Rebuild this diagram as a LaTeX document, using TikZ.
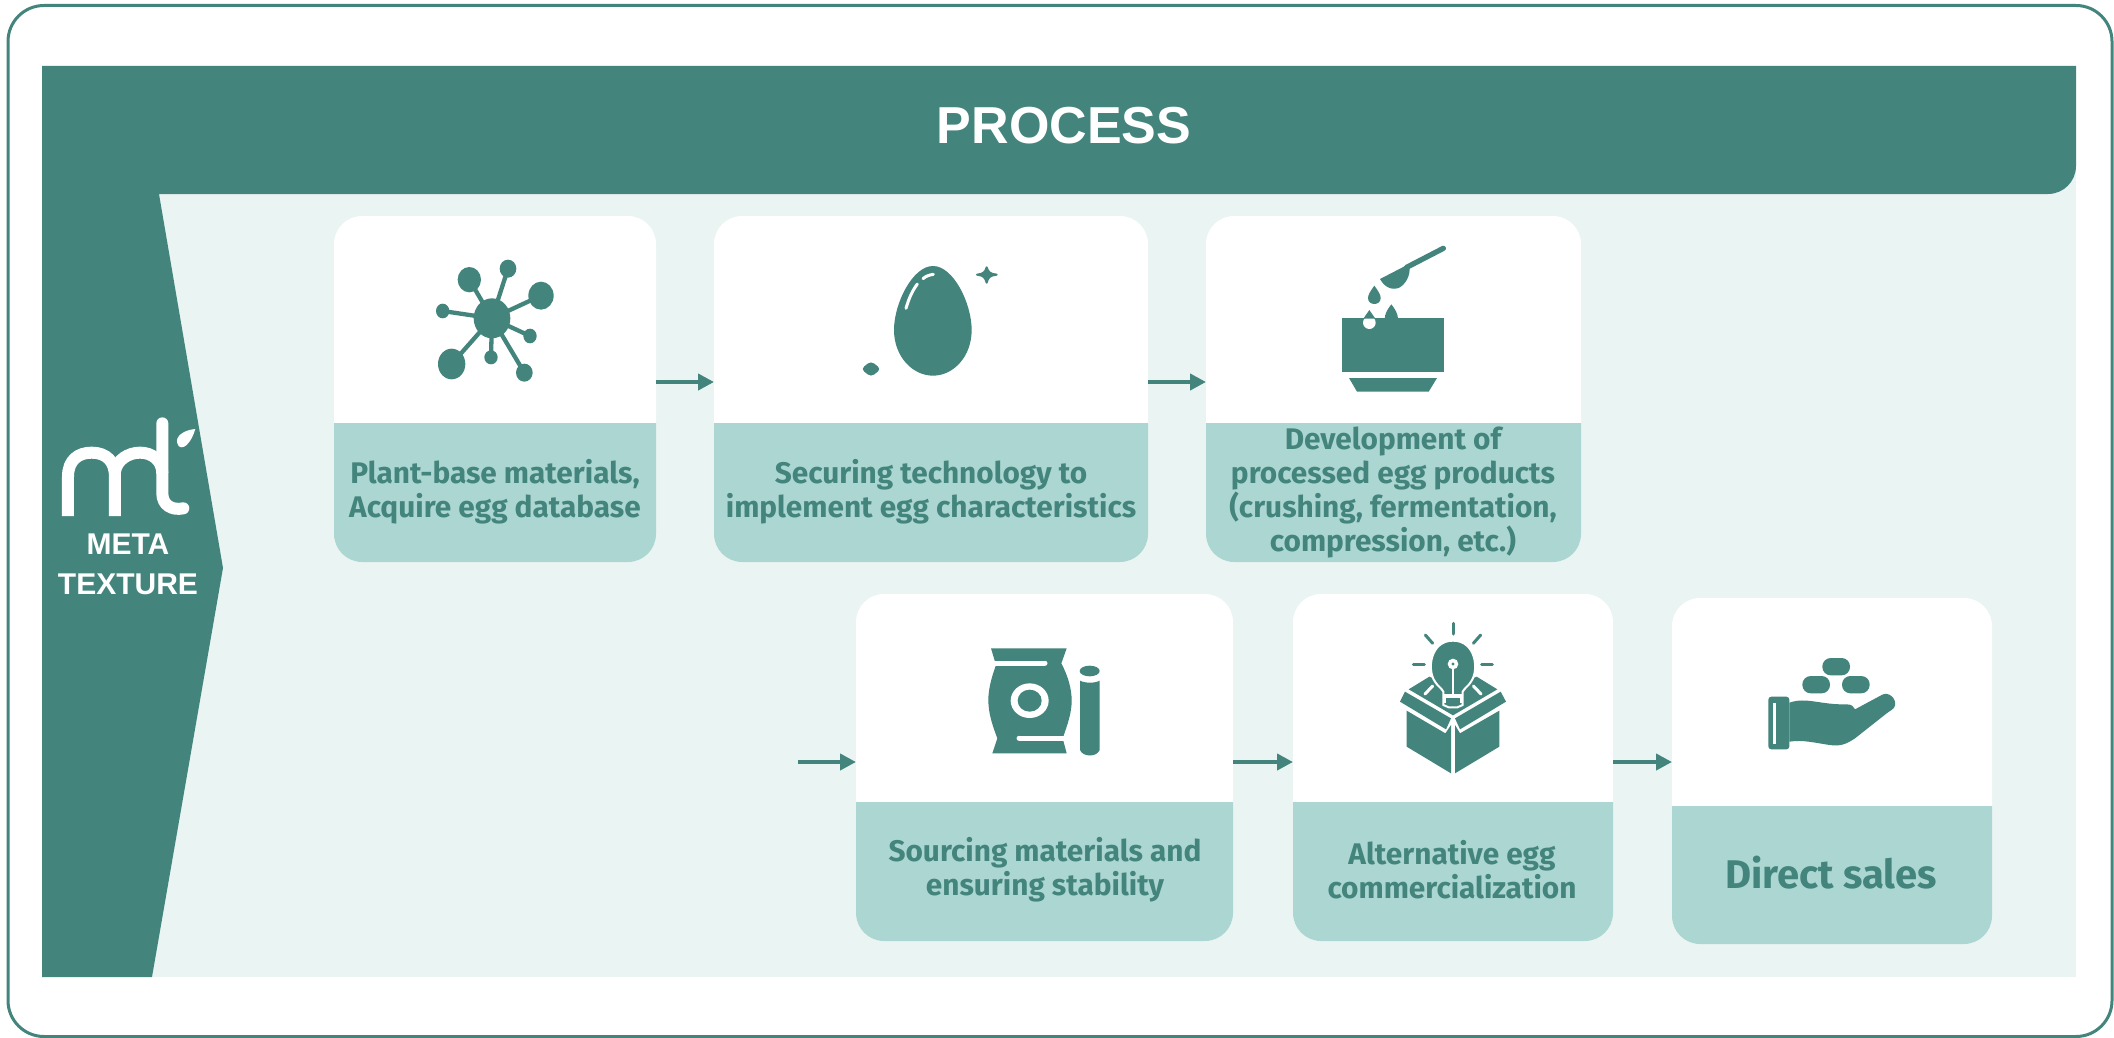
\documentclass[tikz,border=0pt]{standalone}
\usepackage{fontspec}
\setmainfont{Fira Sans}
\newfontfamily\capsfont{Liberation Sans}
\definecolor{teal}{HTML}{43857C}
\definecolor{band}{HTML}{ACD6D1}
\definecolor{pale}{HTML}{EAF4F2}
\usetikzlibrary{arrows.meta}
\tikzset{
  cardbox/.style={fill=white,rounded corners=28pt,inner sep=0pt,outer sep=0pt},
  cardtext/.style={text=teal,align=center,font=\fontsize{29.8}{34}\selectfont\bfseries,inner sep=0pt},
  flowarrow/.style={draw=teal,line width=4pt,-{Triangle[length=16pt,width=16pt]}},
  iconwhite/.style={draw=white,line cap=round},
  icon/.style={shift={#1},x=0.33333pt,y=-0.33333pt},
}
\newcommand\card[6]{%
  \pgfmathsetmacro\cw{#4-#2}\pgfmathsetmacro\ch{#5-#3}%
  \pgfmathsetmacro\cx{(#2+#4)/2}\pgfmathsetmacro\cy{(#3+#5)/2}%
  \node[cardbox,minimum width=\cw pt,minimum height=\ch pt] (#1) at (\cx,\cy) {};
  \fill[band] [sharp corners] (#2,#6) [rounded corners=28pt] -- (#2,#5) -- (#4,#5) [sharp corners] -- (#4,#6) -- cycle;
}
\begin{document}
\begin{tikzpicture}[x=1pt,y=-1pt]
\useasboundingbox (0,0) rectangle (2114,1038);
\fill[white] (0,0) rectangle (2114,1038);
\draw[teal,line width=3pt,rounded corners=36pt] (8,5.5) rectangle (2112,1036.5);
% background panels
\fill[pale] (150,165) rectangle (2076,977);
\fill[teal] [sharp corners] (42,66) -- (2076,66) [rounded corners=28pt] -- (2076,194) [sharp corners] -- (159,194) -- (223,568) -- (152,977) -- (42,977) -- cycle;
\node[text=white,font=\capsfont\fontsize{52}{52}\selectfont\bfseries,inner sep=0pt] (title) at (1064,126) {PROCESS};
% logo
\begin{scope}[icon={(0,380)}]
  \draw[white,line width=12pt] (204,408) -- (204,290) .. controls (204,240) and (235,218) .. (275,218) .. controls (320,218) and (345,245) .. (345,290) -- (345,408);
  \draw[white,line width=12pt] (345,275) .. controls (350,240) and (385,218) .. (420,218) .. controls (455,218) and (487,240) .. (487,280);
  \draw[white,line width=12pt,line cap=round] (487,130) -- (487,340) .. controls (487,375) and (515,392) .. (550,385);
  \fill[white] (586,147) .. controls (550,150) and (525,170) .. (532,190) .. controls (535,205) and (550,205) .. (560,195) .. controls (575,180) and (580,165) .. (586,147) -- cycle;
\end{scope}
\node[text=white,font=\capsfont\fontsize{30}{40}\selectfont\bfseries,align=center,inner sep=0pt] (brand) at (128,564) {META\\TEXTURE};
% cards
\card{c1}{334}{216}{656}{562}{423}
\card{c2}{714}{216}{1148}{562}{423}
\card{c3}{1206}{216}{1581}{562}{423}
\card{c4}{856}{594}{1233}{941}{802}
\card{c5}{1293}{594}{1613}{941}{802}
\card{c6}{1672}{598}{1992}{944}{806}
\node[cardtext] (t1) at (495,492) {Plant-base materials,\\Acquire egg database};
\node[cardtext] (t2) at (931,492) {Securing technology to\\implement egg characteristics};
\node[cardtext] (t3) at (1393,492) {Development of\\processed egg products\\(crushing, fermentation,\\compression, etc.)};
\node[cardtext] (t4) at (1045,870) {Sourcing materials and\\ensuring stability};
\node[cardtext] (t5) at (1452,870) {Alternative egg\\commercialization};
\node[cardtext,font=\fontsize{40}{42}\selectfont\bfseries] (t6) at (1831,873) {Direct sales};
% arrows
\coordinate (start) at (798,762);
\draw[flowarrow] ([yshift=7pt]c1.east) -- ([yshift=7pt]c2.west);
\draw[flowarrow] ([yshift=7pt]c2.east) -- ([yshift=7pt]c3.west);
\draw[flowarrow] (start) -- (start -| c4.west);
\draw[flowarrow] (start -| c4.east) -- (start -| c5.west);
\draw[flowarrow] (start -| c5.east) -- (start -| c6.west);
% network icon
\begin{scope}[icon={(400,230)}]
  \foreach \a/\b in {208/149,324/116,423/197,128/243,390/318,273/382,155/402,373/428}
    \draw[teal,line width=4.3pt] (276,265) -- (\a,\b);
  \fill[teal] (276,265) circle[x radius=55,y radius=60];
  \fill[teal] (208,149) circle[x radius=35,y radius=38];
  \fill[teal] (324,116) circle[x radius=25,y radius=27];
  \fill[teal] (423,197) circle[x radius=38,y radius=42];
  \fill[teal] (128,243) circle[x radius=20,y radius=22];
  \fill[teal] (390,318) circle[x radius=20,y radius=22];
  \fill[teal] (273,382) circle[x radius=20,y radius=21];
  \fill[teal] (155,402) circle[x radius=41,y radius=46];
  \fill[teal] (373,428) circle[x radius=25,y radius=27];
\end{scope}
% egg icon
\begin{scope}[icon={(840,240)}]
  \fill[teal] (279,78) .. controls (340,78) and (395,190) .. (395,270) .. controls (395,350) and (340,407) .. (279,407) .. controls (218,407) and (162,350) .. (162,270) .. controls (162,190) and (218,78) .. (279,78) -- cycle;
  \draw[iconwhite,line width=3pt] (198,205) .. controls (205,180) and (215,155) .. (232,132);
  \draw[iconwhite,line width=3pt] (249,116) .. controls (258,108) and (268,105) .. (280,103);
  \draw[teal,fill=teal,line width=2pt,line join=round] (440,82) .. controls (444,96) and (450,102) .. (470,104) .. controls (450,106) and (444,112) .. (440,128) .. controls (436,112) and (430,106) .. (411,104) .. controls (430,102) and (436,96) .. (440,82) -- cycle;
  \fill[teal,rounded corners=4pt] (93,363) -- (123,387) -- (93,411) -- (63,387) -- cycle;
\end{scope}
% bowl icon
\begin{scope}[icon={(1300,230)}]
  \fill[teal] (126,265) rectangle (431,427);
  \fill[teal] (147,444) -- (411,444) -- (386,485) -- (171,485) -- cycle;
  \draw[teal,line width=5.3pt,line cap=round] (430,55) -- (320,112);
  \fill[teal] (240,147) -- (327,102) .. controls (333,125) and (325,155) .. (300,172) .. controls (280,182) and (255,175) .. (240,147) -- cycle;
  \fill[teal] (223,167) .. controls (210,185) and (204,195) .. (204,204) .. controls (204,228) and (242,228) .. (242,204) .. controls (242,195) and (236,185) .. (223,167) -- cycle;
  \fill[white] (208,278) circle[radius=19];
  \fill[white] (185,250) rectangle (231,265);
  \fill[teal] (208,240) -- (190,266) -- (226,266) -- cycle;
  \fill[teal] (274,223) .. controls (262,238) and (254,252) .. (254,268) -- (294,268) .. controls (294,252) and (286,238) .. (274,223) -- cycle;
\end{scope}
% bag icon
\begin{scope}[icon={(960,630)}]
  \fill[teal] (93,55) -- (320,55) -- (304,100) .. controls (325,140) and (335,178) .. (335,212) .. controls (335,250) and (322,285) .. (308,325) -- (320,370) -- (97,370) -- (112,325) .. controls (97,285) and (85,250) .. (85,210) .. controls (85,178) and (95,140) .. (108,105) -- cycle;
  \draw[white,line width=5pt] (100,100) -- (255,100);
  \fill[white] (255,100) circle[radius=7.5];
  \draw[white,line width=5pt] (177,325) -- (320,325);
  \fill[white] (177,325) circle[radius=7.5];
  \fill[white] (209,212) circle[x radius=57,y radius=52];
  \fill[teal] (209,212) circle[x radius=36,y radius=33];
  \fill[teal] (360,152) .. controls (375,160) and (405,160) .. (419,152) -- (419,360) .. controls (410,382) and (369,382) .. (360,360) -- cycle;
  \fill[teal] (389,123) circle[x radius=30,y radius=16];
\end{scope}
% box icon
\begin{scope}[icon={(1380,610)}]
  \fill[teal] (80,302) -- (196,370) -- (213,345) -- (213,490) -- (80,410) -- cycle;
  \fill[teal] (358,302) -- (240,370) -- (225,345) -- (225,490) -- (358,410) -- cycle;
  \fill[teal] (75,245) -- (60,275) -- (198,358) -- (213,325) -- cycle;
  \fill[teal] (362,245) -- (378,275) -- (240,358) -- (225,325) -- cycle;
  \fill[teal] (86,238) -- (148,200) -- (219,230) -- (290,200) -- (352,238) -- (219,316) -- cycle;
  \draw[iconwhite,line width=3pt] (135,252) -- (158,228);
  \draw[iconwhite,line width=3pt] (303,252) -- (280,228);
  \draw[white,line width=2pt,fill=teal] (190,285) -- (190,245) .. controls (185,235) and (170,225) .. (165,215) .. controls (140,180) and (150,92) .. (219,92) .. controls (288,92) and (298,180) .. (273,215) .. controls (268,225) and (253,235) .. (248,245) -- (248,285) -- (232,292) -- (206,292) -- cycle;
  \fill[white] (192,252) rectangle (246,264);
  \fill[white] (192,264) rectangle (197,280);
  \fill[white] (241,264) rectangle (246,280);
  \fill[white] (219,162) circle[radius=16];
  \fill[teal] (219,162) circle[radius=5];
  \draw[white,line width=2pt] (219,178) -- (219,252);
  \foreach \a/\b/\c/\d in {219/40/219/72,136/75/158/100,302/75/280/100,100/163/133/163,305/163/337/163}
    \draw[teal,line width=3pt,line cap=round] (\a,\b) -- (\c,\d);
\end{scope}
% hand icon
\begin{scope}[icon={(1740,640)}]
  \fill[teal,rounded corners=3pt] (85,170) rectangle (148,328);
  \fill[white] (100,188) rectangle (108,312);
  \fill[teal] (148,188) .. controls (200,170) and (240,195) .. (320,193) .. controls (335,193) and (342,200) .. (345,208) -- (425,165) .. controls (445,153) and (470,175) .. (465,197) .. controls (462,208) and (450,212) .. (440,220) -- (345,295) .. controls (320,312) and (300,320) .. (270,315) .. controls (230,310) and (190,298) .. (148,305) -- cycle;
  \fill[teal,rounded corners=8.4pt] (247,54) rectangle (330,106);
  \fill[teal,rounded corners=8.4pt] (187,108) rectangle (270,160);
  \fill[teal,rounded corners=8.4pt] (306,108) rectangle (389,160);
\end{scope}
\end{tikzpicture}
\end{document}
